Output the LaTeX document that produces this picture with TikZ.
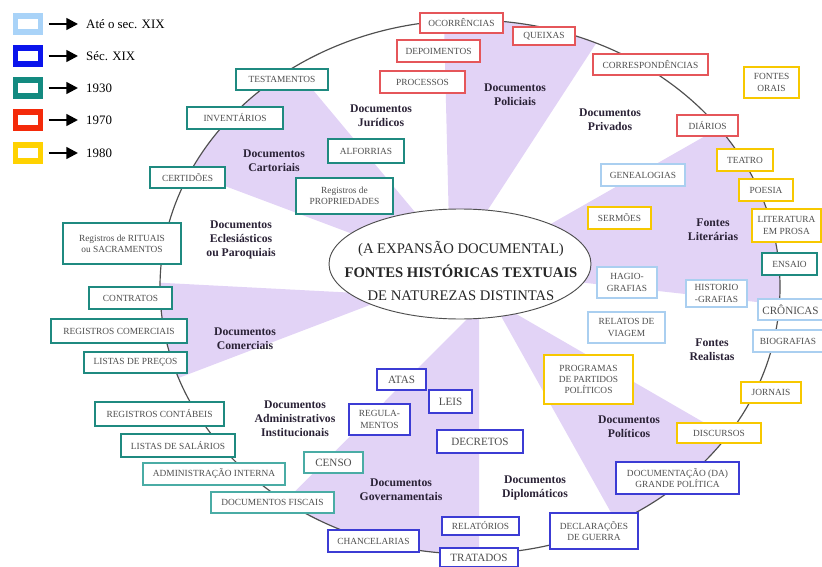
\documentclass[tikz,border=0pt]{standalone}
\usepackage{fontspec}
\setmainfont{Liberation Serif}
\usepackage{tikz}
\usepackage{xcolor}
\usetikzlibrary{shapes.geometric, arrows.meta}

\definecolor{lilac}{HTML}{E2D3F6}
\definecolor{rimgray}{HTML}{4F4F4F}
\definecolor{boxtext}{HTML}{4E4E4E}
\definecolor{grptext}{HTML}{2A2236}
\definecolor{ateXIX}{HTML}{A9D3F8}
\definecolor{secXIX}{HTML}{0A14EC}
\definecolor{anos30}{HTML}{138A80}
\definecolor{anos70}{HTML}{F42A0A}
\definecolor{anos80}{HTML}{FFD200}
\definecolor{bxlight}{HTML}{AACFF0}
\definecolor{bxblue}{HTML}{3C3CD4}
\definecolor{bxteal}{HTML}{1F8A80}
\definecolor{bxlteal}{HTML}{4AACA5}
\definecolor{bxred}{HTML}{E5565A}
\definecolor{bxyellow}{HTML}{F7C800}

\begin{document}
\begin{tikzpicture}[x=0.03cm, y=-0.03cm,
        sz/.style 2 args={minimum width=#1*0.03cm, minimum height=#2*0.03cm},
        srcbox/.style={draw=#1, fill=white, line width=0.9pt, text=boxtext,
            font=\fontsize{8}{9.5}\selectfont, inner sep=1pt, align=center},
        heavy/.style={line width=1.4pt},
        bigtxt/.style={font=\fontsize{9.5}{11}\selectfont},
        grp/.style={text=grptext, font=\fontsize{10}{12}\selectfont\bfseries, align=center},
        keybox/.style={draw=#1, line width=5.1pt, fill=white, sz={25}{16}},
        era/.style={anchor=west, inner sep=0pt, font=\fontsize{11}{13}\selectfont},
        legarrow/.style={line width=2pt, -{Triangle[length=10pt, width=10pt]},
            shorten <=4.3pt, shorten >=6.8pt}]

        \useasboundingbox (0,0) rectangle (822,567);

        \begin{scope}
            \clip (470,287) ellipse [x radius=310, y radius=267];
            \fill[lilac] (470,278) -- (156,-98) -- (105,141) -- cycle;
            \fill[lilac] (450,268) -- (443,-20) -- (649,-38) -- cycle;
            \fill[lilac] (470,270) -- (900,25) -- (900,318) -- cycle;
            \fill[lilac] (492,300) -- (914,544) -- (716,700) -- cycle;
            \fill[lilac] (479,307) -- (479,700) -- (87,700) -- cycle;
            \fill[lilac] (396,295) -- (50,277) -- (50,427) -- cycle;
        \end{scope}

        \draw[rimgray, line width=1pt] (470,287) ellipse [x radius=310, y radius=267];

        \node[ellipse, draw=rimgray, fill=white, line width=0.8pt, sz={262}{110}] (centre) at (460,264) {};
        \node[align=center, font=\fontsize{12.5}{20}\selectfont, text=black!85] (title) at (461,271)
            {(A EXPANSÃO DOCUMENTAL)\\\textbf{FONTES HISTÓRICAS TEXTUAIS}\\DE NATUREZAS DISTINTAS};

        \node[keybox=ateXIX] (key1) at (28,24) {};
        \node[keybox=secXIX] (key2) at (28,56) {};
        \node[keybox=anos30] (key3) at (28,88) {};
        \node[keybox=anos70] (key4) at (28,120) {};
        \node[keybox=anos80] (key5) at (28,153) {};

        \node[era] (era1) at (86,24) {Até o sec. XIX};
        \node[era] (era2) at (86,56) {Séc. XIX};
        \node[era] (era3) at (86,88) {1930};
        \node[era] (era4) at (86,120) {1970};
        \node[era] (era5) at (86,153) {1980};

        \draw[legarrow] (key1) -- (era1);
        \draw[legarrow] (key2) -- (era2);
        \draw[legarrow] (key3) -- (era3);
        \draw[legarrow] (key4) -- (era4);
        \draw[legarrow] (key5) -- (era5);

        \node[srcbox=bxred, sz={83}{20}] (ocorrencias) at (461.5,23) {OCORRÊNCIAS};
        \node[srcbox=bxred, sz={83}{22}] (depoimentos) at (438.5,51) {DEPOIMENTOS};
        \node[srcbox=bxred, sz={85}{22}] (processos) at (422.5,82) {PROCESSOS};
        \node[srcbox=bxred, sz={62}{18}] (queixas) at (544,36) {QUEIXAS};
        \node[srcbox=bxred, sz={115}{21}] (correspondencias) at (650.5,64.5) {CORRESPONDÊNCIAS};
        \node[srcbox=bxred, sz={61}{21}] (diarios) at (707.5,125.5) {DIÁRIOS};

        \node[srcbox=bxyellow, heavy, sz={55}{31}] (orais) at (771.5,82.5) {FONTES\\ORAIS};
        \node[srcbox=bxyellow, heavy, sz={56}{22}] (teatro) at (745,160) {TEATRO};
        \node[srcbox=bxyellow, heavy, sz={54}{22}] (poesia) at (766,190) {POESIA};
        \node[srcbox=bxyellow, heavy, sz={69}{33}] (prosa) at (786.5,225.5) {LITERATURA\\EM PROSA};
        \node[srcbox=bxyellow, heavy, sz={63}{22}] (sermoes) at (619.5,218) {SERMÕES};
        \node[srcbox=bxyellow, heavy, sz={89}{49}] (programas) at (588.5,379.5) {PROGRAMAS\\DE PARTIDOS\\POLÍTICOS};
        \node[srcbox=bxyellow, heavy, sz={60}{21}] (jornais) at (771,392.5) {JORNAIS};
        \node[srcbox=bxyellow, heavy, sz={84}{20}] (discursos) at (719,433) {DISCURSOS};

        \node[srcbox=bxlight, sz={84}{22}] (genealogias) at (643,175) {GENEALOGIAS};
        \node[srcbox=bxlight, sz={60}{31}] (hagiografias) at (627,282.5) {HAGIO-\\GRAFIAS};
        \node[srcbox=bxlight, sz={61}{27}] (historiografias) at (716.5,293.5) {HISTORIO\\-GRAFIAS};
        \node[srcbox=bxlight, sz={77}{31}] (relatos) at (626.5,327.5) {RELATOS DE\\VIAGEM};
        \node[srcbox=bxlight, bigtxt, sz={65}{21}] (cronicas) at (790.5,309.5) {CRÔNICAS};
        \node[srcbox=bxlight, sz={70}{22}] (biografias) at (788,341) {BIOGRAFIAS};

        \node[srcbox=bxteal, heavy, sz={55}{22}] (ensaio) at (789.5,264) {ENSAIO};
        \node[srcbox=bxteal, heavy, sz={92}{21}] (testamentos) at (282,79.5) {TESTAMENTOS};
        \node[srcbox=bxteal, heavy, sz={96}{22}] (inventarios) at (235,118) {INVENTÁRIOS};
        \node[srcbox=bxteal, heavy, sz={75}{21}] (certidoes) at (187.5,177.5) {CERTIDÕES};
        \node[srcbox=bxteal, heavy, sz={76}{24}] (alforrias) at (366,151) {ALFORRIAS};
        \node[srcbox=bxteal, heavy, sz={97}{36}] (propriedades) at (344.5,196) {Registros de\\PROPRIEDADES};
        \node[srcbox=bxteal, heavy, sz={118}{41}] (rituais) at (122,243.5) {Registros de RITUAIS\\ou SACRAMENTOS};
        \node[srcbox=bxteal, heavy, sz={83}{22}] (contratos) at (130.5,298) {CONTRATOS};
        \node[srcbox=bxteal, heavy, sz={136}{24}] (comerciais) at (119,331) {REGISTROS COMERCIAIS};
        \node[srcbox=bxteal, heavy, sz={103}{21}] (precos) at (135.5,362.5) {LISTAS DE PREÇOS};
        \node[srcbox=bxteal, heavy, sz={129}{24}] (contabeis) at (159.5,414) {REGISTROS CONTÁBEIS};
        \node[srcbox=bxteal, heavy, sz={114}{23}] (salarios) at (178,445.5) {LISTAS DE SALÁRIOS};

        \node[srcbox=bxlteal, sz={142}{22}] (interna) at (214,474) {ADMINISTRAÇÃO INTERNA};
        \node[srcbox=bxlteal, sz={123}{21}] (fiscais) at (272.5,502.5) {DOCUMENTOS FISCAIS};
        \node[srcbox=bxlteal, bigtxt, sz={59}{21}] (censo) at (333.5,462.5) {CENSO};

        \node[srcbox=bxblue, bigtxt, sz={49}{21}] (atas) at (401.5,379.5) {ATAS};
        \node[srcbox=bxblue, bigtxt, sz={43}{23}] (leis) at (450.5,401.5) {LEIS};
        \node[srcbox=bxblue, sz={61}{31}] (regulamentos) at (379.5,419.5) {REGULA-\\MENTOS};
        \node[srcbox=bxblue, bigtxt, sz={86}{23}] (decretos) at (480,441.5) {DECRETOS};
        \node[srcbox=bxblue, sz={77}{18}] (relatorios) at (480.5,526) {RELATÓRIOS};
        \node[srcbox=bxblue, bigtxt, sz={78}{19}] (tratados) at (479,557.5) {TRATADOS};
        \node[srcbox=bxblue, sz={91}{22}] (chancelarias) at (373.5,541) {CHANCELARIAS};
        \node[srcbox=bxblue, sz={88}{36}] (declaracoes) at (594,531) {DECLARAÇÕES\\DE GUERRA};
        \node[srcbox=bxblue, sz={123}{32}] (grandepolitica) at (677.5,478) {DOCUMENTAÇÃO (DA)\\GRANDE POLÍTICA};

        \node[grp] (juridicos) at (381,116) {Documentos\\Jurídicos};
        \node[grp] (policiais) at (515,95) {Documentos\\Policiais};
        \node[grp] (privados) at (610,120) {Documentos\\Privados};
        \node[grp] (cartoriais) at (274,161) {Documentos\\Cartoriais};
        \node[grp] (eclesiasticos) at (241,240) {Documentos\\Eclesiásticos\\ou Paroquiais};
        \node[grp] (comerciaisgrp) at (245,339) {Documentos\\Comerciais};
        \node[grp] (administrativos) at (295,419) {Documentos\\Administrativos\\Institucionais};
        \node[grp] (governamentais) at (401,490) {Documentos\\Governamentais};
        \node[grp] (diplomaticos) at (535,488) {Documentos\\Diplomáticos};
        \node[grp] (politicos) at (629,427) {Documentos\\Políticos};
        \node[grp] (literarias) at (713,230) {Fontes\\Literárias};
        \node[grp] (realistas) at (712,350) {Fontes\\Realistas};
    \end{tikzpicture}
\end{document}
